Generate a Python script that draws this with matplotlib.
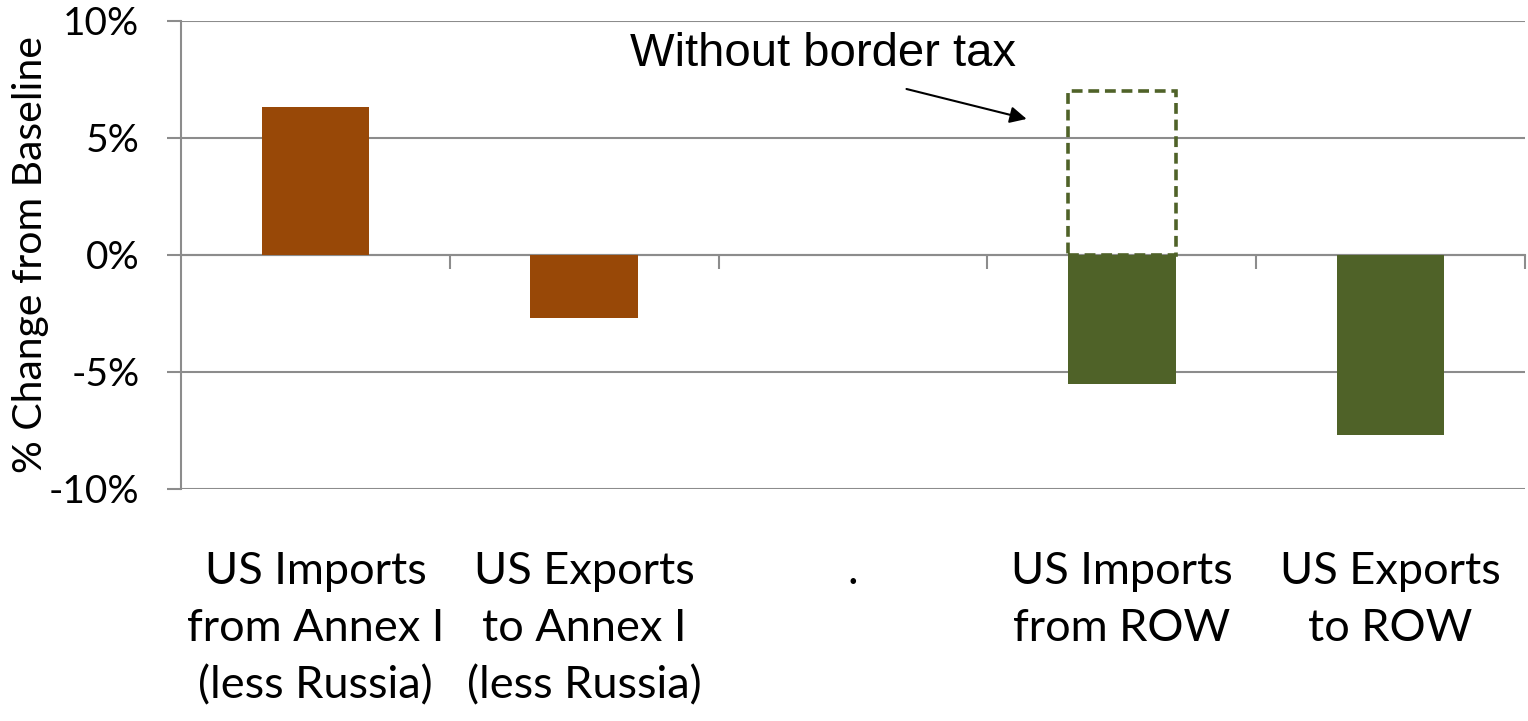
import numpy as np
import matplotlib
matplotlib.use("Agg")
import matplotlib.pyplot as plt
from matplotlib.ticker import FuncFormatter

# trade flow changes vs baseline (%)
categories = ["US Imports\nfrom Annex I\n(less Russia)",
              "US Exports\nto Annex I\n(less Russia)",
              ".",
              "US Imports\nfrom ROW",
              "US Exports\nto ROW"]
values = [6.3, -2.7, np.nan, -5.5, -7.7]
no_tax_values = [np.nan, np.nan, np.nan, 7.0, np.nan]
bar_colors = ["#984807", "#984807", "#984807", "#4F6228", "#4F6228"]

grey = "#8c8c8c"
green = "#4F6228"
main_font = ["Lato", "DejaVu Sans"]

fig = plt.figure(figsize=(15.28, 7.21), dpi=100)
ax = fig.add_axes([0.1185, 0.322, 0.8795, 0.649])

x = np.arange(len(categories))
ax.bar(x, values, width=0.4, color=bar_colors, zorder=3)
ax.bar(x, no_tax_values, width=0.4, fill=False, edgecolor=green,
       linestyle=(0, (3, 1.6)), linewidth=2.6, zorder=3)

ax.set_xlim(-0.5, len(categories) - 0.5)
ax.set_ylim(-10, 10)
ax.set_yticks([-10, -5, 0, 5, 10])
ax.yaxis.set_major_formatter(FuncFormatter(lambda v, p: f"{v:.0f}%"))
ax.grid(axis="y", color=grey, linewidth=1.5, zorder=0)

for side in ["top", "right"]:
    ax.spines[side].set_visible(False)
ax.spines["left"].set_color(grey)
ax.spines["left"].set_linewidth(1.5)
ax.spines["bottom"].set_position(("data", 0))
ax.spines["bottom"].set_color(grey)
ax.spines["bottom"].set_linewidth(1.5)

ax.tick_params(axis="y", direction="out", length=10, width=1.5, color=grey,
               labelsize=28, pad=20)
for lbl in ax.get_yticklabels():
    lbl.set_family(main_font)

# category separators on the zero line
ax.set_xticks(np.arange(0.5, len(categories), 1.0))
ax.set_xticklabels([])
ax.tick_params(axis="x", direction="out", length=10, width=1.5, color=grey)

for i, lab in enumerate(categories):
    ax.text(i, -0.132, lab, transform=ax.get_xaxis_transform(),
            ha="center", va="top", fontsize=32.5, family=main_font,
            linespacing=1.5)

ax.set_ylabel("% Change from Baseline", fontsize=29.5, family=main_font)
ax.yaxis.set_label_coords(-0.098, 0.5)

ax.text(1.89, 8.6, "Without border tax", fontsize=34,
        family="Liberation Sans", ha="center", va="center", zorder=5)
ax.annotate("", xy=(2.646, 5.81), xytext=(2.199, 7.09),
            arrowprops=dict(arrowstyle="-|>", color="black", lw=1.5,
                            mutation_scale=25, shrinkA=0, shrinkB=0),
            zorder=5)

fig.savefig("out.png", dpi=100)
